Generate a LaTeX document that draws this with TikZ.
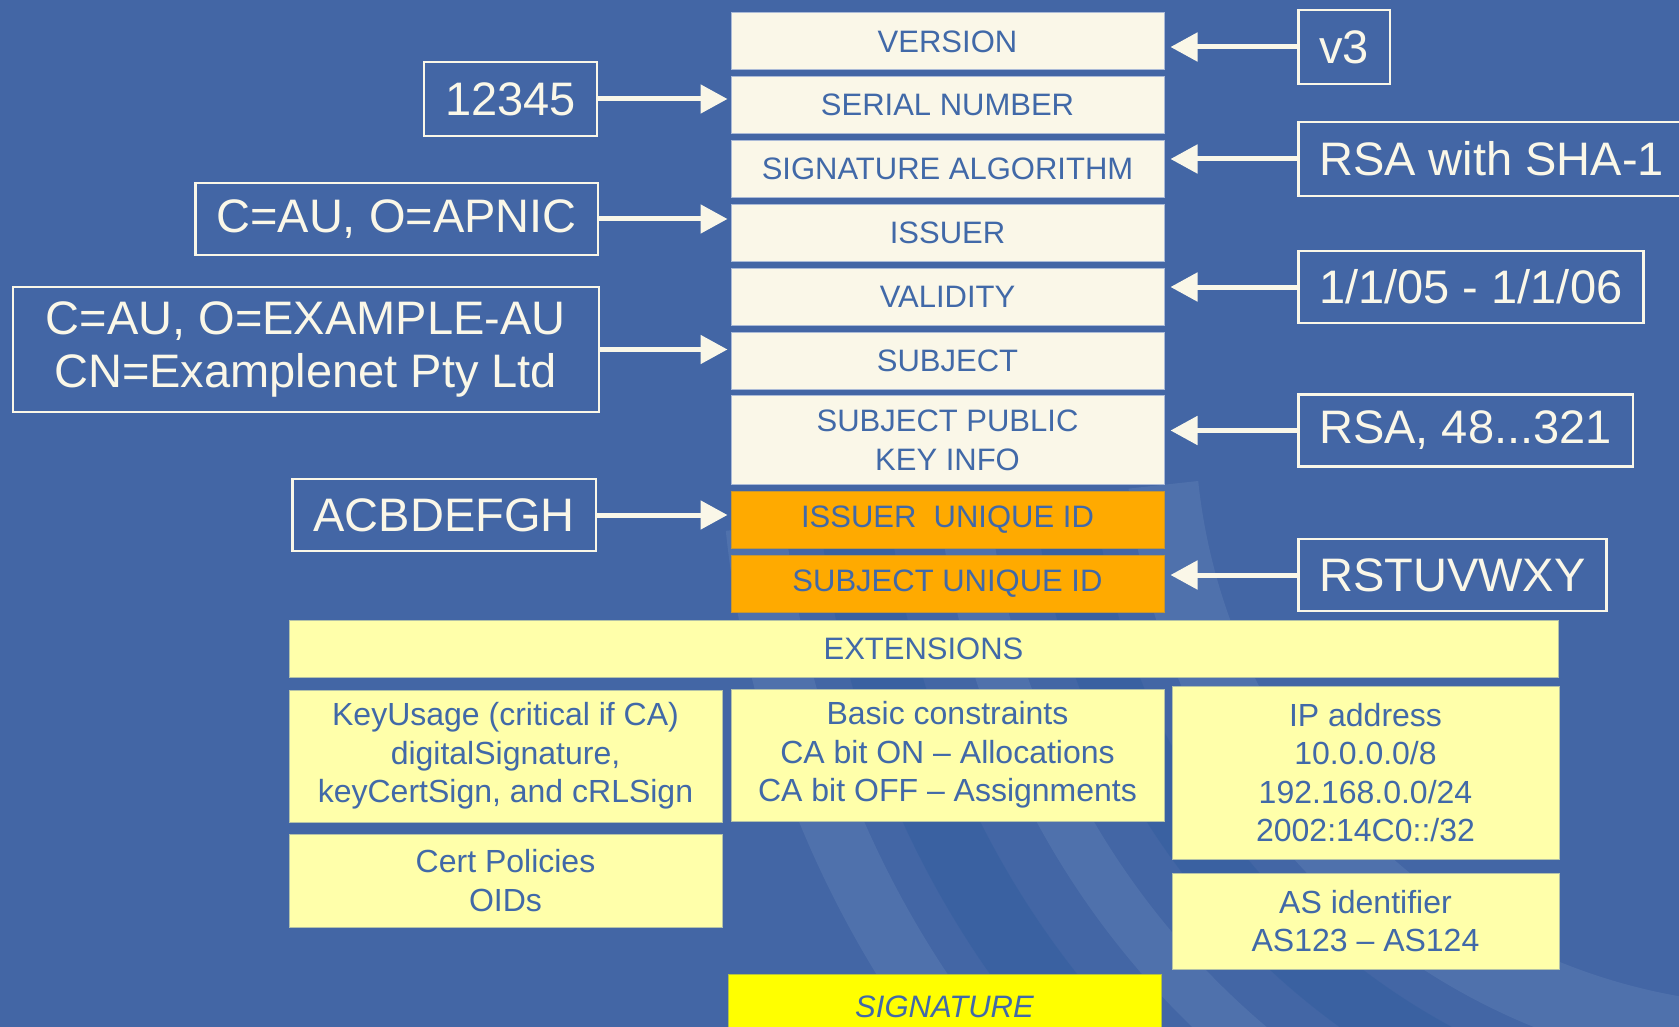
\documentclass[tikz,border=0pt]{standalone}
\usepackage{fontspec}
\setmainfont{Liberation Sans}
\usetikzlibrary{positioning,arrows.meta}
\definecolor{fond}{RGB}{67,102,165}
\definecolor{fonce}{RGB}{38,88,155}
\definecolor{clair}{RGB}{110,140,190}
\definecolor{creme}{RGB}{250,247,232}
\definecolor{encre}{RGB}{65,105,168}
\definecolor{orange}{RGB}{255,170,0}
\definecolor{jaunepale}{RGB}{255,255,170}
\definecolor{jaune}{RGB}{255,255,0}
\tikzset{
  field/.style={draw=fond!45!white, line width=1pt, fill=creme, text=encre,
    minimum width=433pt, minimum height=57pt, inner sep=0pt, align=center,
    font=\fontsize{31}{38.5}\selectfont},
  uid/.style={field, fill=orange, draw=orange!70!fond},
  extbox/.style={field, fill=jaunepale, draw=jaunepale!60!fond,
    font=\fontsize{32}{38.5}\selectfont},
  valbox/.style={draw=creme, line width=2.5pt, text=creme, inner xsep=21pt,
    inner ysep=0pt, minimum height=72pt, align=center,
    font=\fontsize{47}{53}\selectfont},
  feed/.style={draw=creme, line width=5pt, -{Triangle[length=27pt,width=28pt]}}
}
\begin{document}
\begin{tikzpicture}[x=1pt,y=1pt, node distance=5.8pt]
  \useasboundingbox (0,0) rectangle (1679,-1027);
  \fill[fond] (0,0) rectangle (1679,-1027);
  \begin{scope}
    \clip (0,0) rectangle (1679,-1027);
    \foreach \r/\c/\w in {620/clair/70, 720/fonce/60, 820/clair/50, 930/fonce/70, 1030/clair/60}
      \draw[\c, line width=\w pt, opacity=.3] (1780,-420) ++(186:\r) arc (186:280:\r);
  \end{scope}
  % the fields of the certificate
  \node[field] (version) at (947.5,-41.5) {VERSION};
  \node[field, below=of version] (serial) {SERIAL NUMBER};
  \node[field, below=of serial] (sigalg) {SIGNATURE ALGORITHM};
  \node[field, below=of sigalg] (issuer) {ISSUER};
  \node[field, below=of issuer] (validity) {VALIDITY};
  \node[field, below=of validity] (subject) {SUBJECT};
  \node[field, below=of subject, minimum height=89pt] (spki) {SUBJECT PUBLIC\\KEY INFO};
  \node[uid, below=of spki] (issuid) {ISSUER\ \ UNIQUE ID};
  \node[uid, below=of issuid] (subjuid) {SUBJECT UNIQUE ID};
  \node[field, fill=jaunepale, draw=jaunepale!60!fond, minimum width=1269pt] (ext) at (923.5,-649) {EXTENSIONS};
  \node[extbox, minimum height=132pt] (keyuse) at (505.5,-756) {KeyUsage (critical if CA)\\digitalSignature,\\keyCertSign, and cRLSign};
  \node[extbox, minimum height=132pt] (basic) at (947.5,-755) {Basic constraints\\CA bit ON -- Allocations\\CA bit OFF -- Assignments};
  \node[extbox, minimum width=387pt, minimum height=173pt] (ipaddr) at (1365.5,-772.5) {IP address\\10.0.0.0/8\\192.168.0.0/24\\2002:14C0::/32};
  \node[extbox, minimum width=387pt, minimum height=96pt] (asid) at (1365.5,-921) {AS identifier\\AS123 -- AS124};
  \node[extbox, minimum height=93pt] (policy) at (505.5,-880.5) {Cert Policies\\OIDs};
  \node[field, fill=jaune, draw=jaune!60!fond, minimum height=66pt, font=\fontsize{31}{38.5}\selectfont\itshape] (sig) at (944.5,-1007) {SIGNATURE};
  % the values
  \node[valbox, minimum height=74pt, anchor=west] (v3) at (1297,-47) {v3};
  \node[valbox, minimum height=74pt, anchor=east] (serno) at (598,-99) {12345};
  \node[valbox, minimum height=74pt, anchor=west] (rsasha) at (1297,-159) {RSA with SHA-1};
  \node[valbox, anchor=east] (issname) at (599,-219) {C=AU, O=APNIC};
  \node[valbox, anchor=west] (dates) at (1297,-287) {1/1/05 - 1/1/06};
  \node[valbox, anchor=east, minimum width=586pt, minimum height=125pt] (subjname) at (600,-349.5) {C=AU, O=EXAMPLE-AU\\CN=Examplenet Pty Ltd};
  \node[valbox, anchor=west] (pubkey) at (1297,-430.5) {RSA, 48...321};
  \node[valbox, anchor=east] (issval) at (597,-515) {ACBDEFGH};
  \node[valbox, anchor=west] (subjval) at (1297,-575) {RSTUVWXY};
  % arrows
  \foreach \a/\b in {v3/version, rsasha/sigalg, dates/validity, pubkey/spki, subjval/subjuid}
    \draw[feed, shorten >=6pt] (\a.west) -- (\a.west -| \b.east);
  \foreach \a/\b in {serno/serial, issname/issuer, subjname/subject, issval/issuid}
    \draw[feed, shorten >=3pt] (\a.east) -- (\a.east -| \b.west);
\end{tikzpicture}
\end{document}
